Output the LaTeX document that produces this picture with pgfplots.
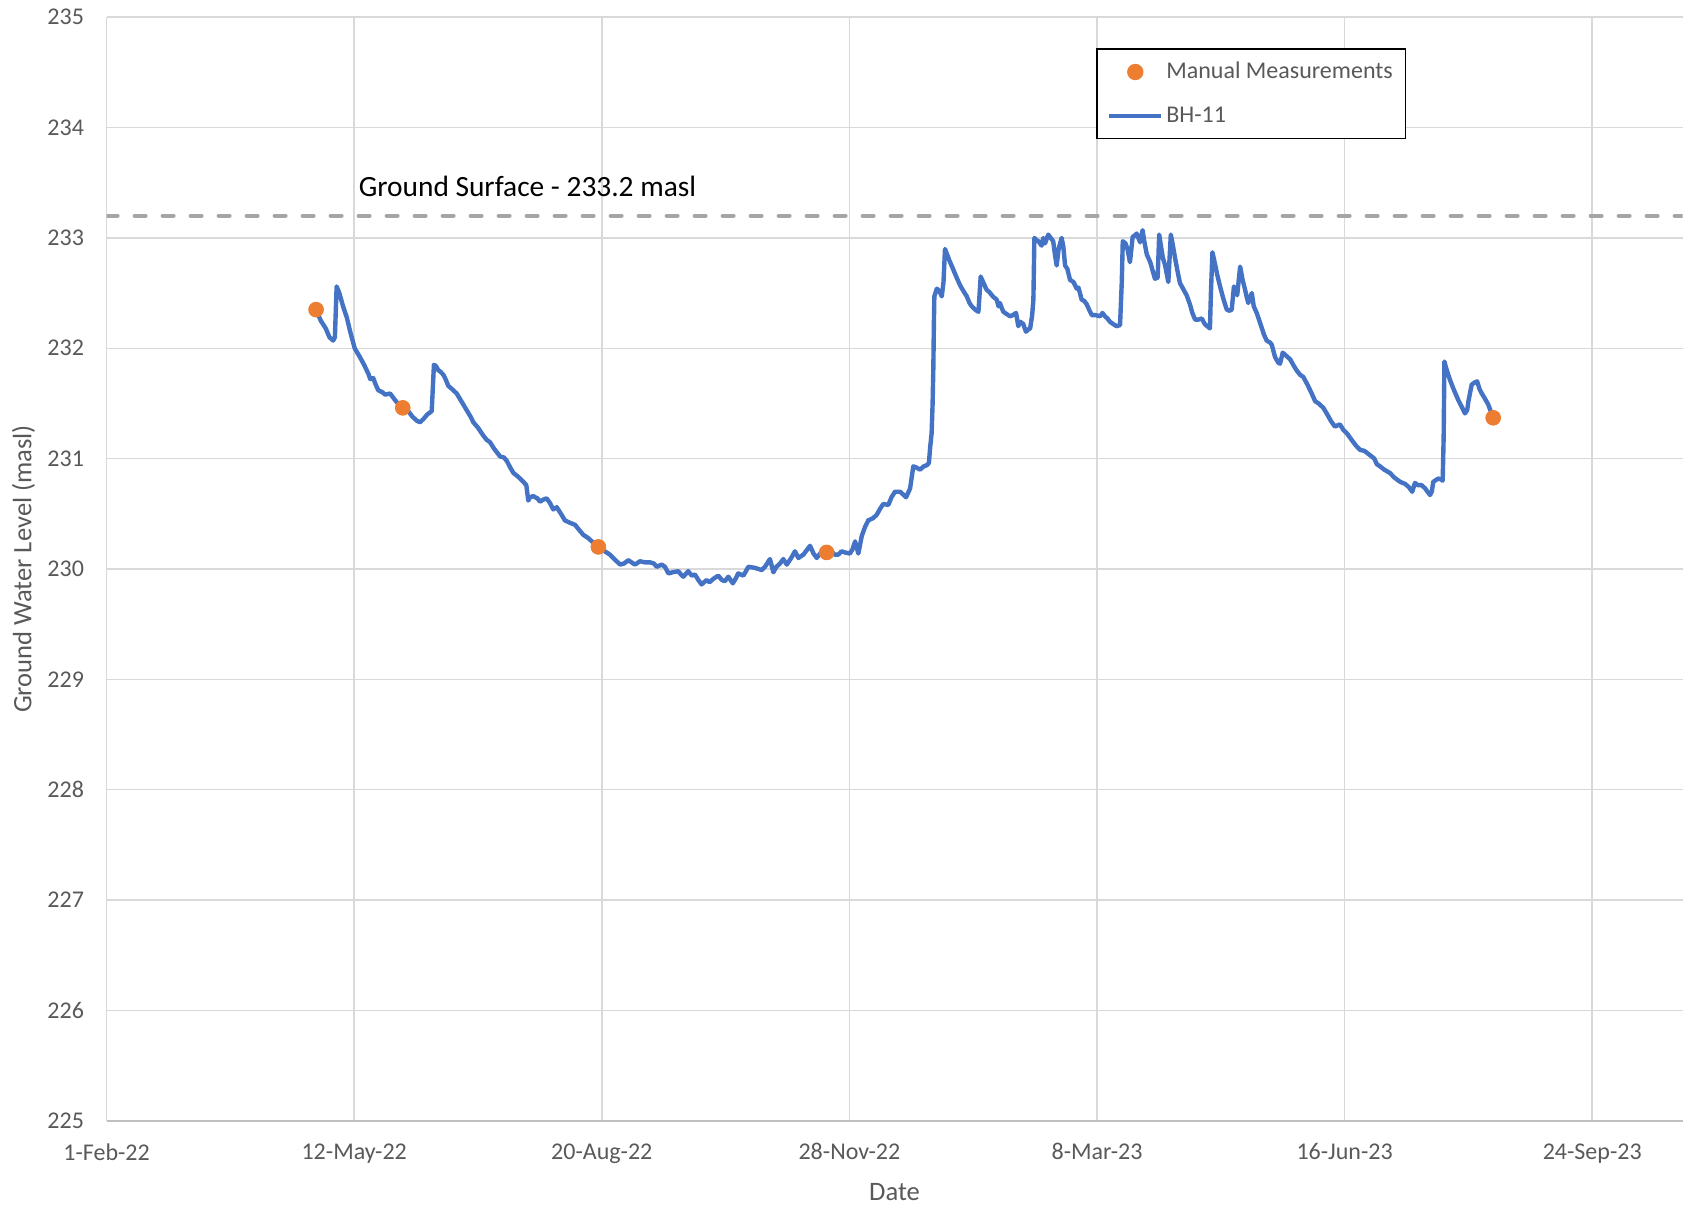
\documentclass[border=0pt]{standalone}
\usepackage{fontspec}
\setmainfont{Carlito}
\usepackage{pgfplots}
\pgfplotsset{compat=1.18}
\definecolor{bhblue}{HTML}{4472C4}
\definecolor{mmorange}{HTML}{ED7D31}
\definecolor{txtgray}{HTML}{595959}
\definecolor{gridgray}{HTML}{D9D9D9}
\definecolor{axgray}{HTML}{BFBFBF}
\definecolor{dashgray}{HTML}{A5A5A5}
\pgfplotsset{
  linelegend/.style={legend image code/.code={\draw[##1] (0pt,0pt) -- (26pt,0pt);}},
  marklegend/.style={legend image code/.code={\draw[mark repeat=2,mark phase=2,##1] plot coordinates {(0pt,0pt) (13pt,0pt) (26pt,0pt)};}},
}
\begin{document}
\begin{tikzpicture}
\useasboundingbox (-53.3pt,-44.1pt) rectangle (790.7pt,560.4pt);
\begin{axis}[
  at={(0,0)}, anchor=south west,
  scale only axis, width=788pt, height=551.8pt,
  xmin=0, xmax=636.5, ymin=225, ymax=235,
  xtick={0,100,...,600},
  xticklabels={1-Feb-22,12-May-22,20-Aug-22,28-Nov-22,8-Mar-23,16-Jun-23,24-Sep-23},
  ytick={225,226,...,235},
  /pgf/number format/assume math mode=true,
  grid=major, major grid style={gridgray, line width=0.75pt},
  major tick length=0pt,
  axis x line*=bottom, axis y line*=left,
  x axis line style={axgray, line width=1pt, -},
  y axis line style={gridgray, line width=0.75pt, -},
  tick label style={font=\fontsize{12}{14}\selectfont, text=txtgray},
  yticklabel style={xshift=-7.8pt},
  xticklabel style={yshift=-7.8pt},
  xlabel={Date}, ylabel={Ground Water Level (masl)},
  label style={font=\fontsize{13.3}{15}\selectfont, text=txtgray},
  xlabel style={at={(axis description cs:0.5,-0.0643)}, anchor=center},
  ylabel style={at={(axis description cs:-0.0527,0.5)}, anchor=center},
  legend style={draw=black, line width=0.75pt, at={(axis description cs:0.628,0.9717)}, anchor=north west,
    font=\fontsize{12}{14}\selectfont, text=txtgray, inner xsep=5pt, inner ysep=2.5pt, row sep=4.5pt,
    nodes={inner xsep=1.4pt, inner ysep=4pt}},
  legend cell align=left,
]
\addplot[forget plot, dashgray, line width=2pt, dash pattern=on 5.5pt off 8.5pt, line cap=round]
  coordinates {(0,233.2) (636.5,233.2)};
\addplot[only marks, mmorange, mark=*, mark size=3.7pt, mark options={draw=mmorange, fill=mmorange}, marklegend]
  coordinates {(84.6,232.35) (119.6,231.46) (198.6,230.20) (290.8,230.15) (560.0,231.37)};
\addlegendentry{Manual Measurements}
\addplot[bhblue, line width=2.2pt, line join=round, no markers, linelegend]
  table {
84.6 232.35
86.5 232.25
88.5 232.18
90.0 232.10
91.5 232.07
92.2 232.10
92.9 232.56
94.0 232.50
95.5 232.38
97.0 232.28
98.5 232.14
100.2 232.00
102.3 231.92
104.0 231.85
105.7 231.77
106.5 231.72
107.7 231.73
108.5 231.68
109.7 231.62
111.5 231.60
112.5 231.58
114.5 231.59
116.5 231.53
118.0 231.49
119.6 231.47
121.5 231.44
123.5 231.38
125.5 231.34
126.6 231.33
128.0 231.36
129.5 231.40
131.3 231.43
132.2 231.85
133.0 231.84
134.0 231.80
134.7 231.79
136.0 231.76
136.7 231.73
138.0 231.66
139.5 231.63
141.4 231.59
143.0 231.53
145.4 231.44
147.0 231.38
148.1 231.33
150.0 231.28
152.1 231.21
153.5 231.17
154.8 231.15
156.5 231.09
158.9 231.02
160.5 231.01
161.6 230.98
163.0 230.92
164.3 230.87
166.0 230.84
168.3 230.79
169.5 230.76
170.3 230.62
171.0 230.65
172.3 230.66
174.0 230.64
175.0 230.61
176.5 230.63
177.7 230.64
179.0 230.60
180.4 230.54
181.8 230.56
183.5 230.50
185.1 230.44
187.0 230.42
189.2 230.40
191.0 230.35
192.5 230.31
194.5 230.28
196.5 230.24
198.6 230.20
200.5 230.17
203.3 230.13
205.5 230.08
207.4 230.04
209.0 230.05
210.7 230.08
212.0 230.06
213.4 230.04
215.4 230.07
217.5 230.06
219.5 230.06
221.0 230.05
222.2 230.02
224.2 230.04
225.5 230.02
226.9 229.96
228.5 229.97
230.9 229.98
232.0 229.95
232.9 229.93
234.9 229.98
236.3 229.94
237.6 229.95
239.0 229.90
240.3 229.86
242.3 229.90
243.5 229.88
245.0 229.91
247.0 229.94
248.5 229.90
249.7 229.89
251.1 229.93
252.9 229.87
254.0 229.91
255.1 229.96
257.2 229.94
259.2 230.02
261.9 230.01
264.6 229.99
265.9 230.02
267.9 230.09
269.3 229.97
270.5 230.02
272.0 230.05
273.3 230.09
274.7 230.04
276.5 230.10
278.0 230.16
279.4 230.10
281.4 230.13
284.1 230.21
285.5 230.14
286.8 230.10
288.5 230.15
290.8 230.15
292.8 230.16
294.0 230.13
295.5 230.13
296.8 230.16
298.2 230.15
300.2 230.14
301.3 230.18
302.3 230.25
303.6 230.14
305.0 230.30
306.3 230.38
307.6 230.44
309.5 230.46
311.0 230.49
312.5 230.55
313.7 230.59
315.7 230.58
317.0 230.65
318.4 230.70
320.5 230.70
322.9 230.65
324.5 230.73
325.8 230.93
327.0 230.92
328.5 230.90
330.0 230.93
331.2 230.94
332.1 230.96
332.6 231.10
333.2 231.23
333.6 231.50
333.9 231.83
334.1 232.20
334.3 232.47
335.3 232.54
336.3 232.52
337.3 232.47
338.0 232.60
338.6 232.90
340.3 232.80
342.0 232.71
343.5 232.63
344.7 232.57
346.0 232.52
347.4 232.47
348.5 232.41
349.4 232.38
350.8 232.35
352.1 232.33
352.6 232.50
353.0 232.65
354.0 232.60
355.4 232.53
356.5 232.51
357.9 232.47
359.5 232.44
360.2 232.38
360.8 232.41
361.6 232.36
362.2 232.33
363.5 232.31
364.9 232.29
366.0 232.30
367.3 232.32
368.2 232.20
369.0 232.24
370.2 232.22
371.3 232.15
372.2 232.17
373.0 232.18
373.8 232.30
374.3 232.44
374.7 233.00
375.5 232.98
376.3 232.97
377.0 232.95
377.6 232.93
378.3 233.00
379.0 232.95
380.3 233.03
381.3 233.00
382.3 232.97
383.0 232.85
383.7 232.75
384.5 232.90
385.7 233.00
386.4 232.92
387.1 232.75
388.0 232.72
389.1 232.62
390.5 232.60
391.8 232.54
392.5 232.55
393.8 232.44
394.8 232.43
395.8 232.40
396.8 232.35
397.9 232.30
399.5 232.30
401.2 232.29
402.2 232.32
403.2 232.29
404.2 232.27
405.2 232.24
406.5 232.22
407.9 232.20
409.3 232.21
410.0 232.60
410.4 232.97
411.5 232.95
412.3 232.90
413.3 232.78
414.4 233.01
415.2 233.02
416.0 233.04
417.4 232.96
418.4 233.07
419.0 232.98
420.1 232.85
421.5 232.78
422.5 232.70
423.4 232.63
424.5 232.64
425.1 233.03
426.0 232.90
426.6 232.82
427.5 232.75
428.8 232.60
429.8 233.03
430.5 232.95
431.5 232.82
432.5 232.70
433.5 232.59
434.5 232.55
436.2 232.48
437.5 232.40
438.5 232.32
439.6 232.26
441.0 232.26
442.3 232.27
443.5 232.22
444.5 232.20
445.6 232.18
446.0 232.50
446.6 232.87
447.5 232.78
448.5 232.67
449.7 232.56
451.0 232.45
452.4 232.35
453.5 232.34
454.4 232.35
455.3 232.56
456.0 232.52
456.6 232.48
457.8 232.74
458.8 232.62
459.8 232.53
460.5 232.46
461.1 232.41
462.5 232.50
463.3 232.38
464.5 232.32
466.0 232.22
467.5 232.12
468.5 232.07
470.0 232.05
470.6 232.03
471.9 231.92
473.2 231.87
473.9 231.86
475.0 231.96
476.5 231.93
478.0 231.90
479.5 231.84
480.6 231.80
482.0 231.76
483.3 231.74
485.0 231.67
486.5 231.60
488.1 231.52
489.5 231.50
491.4 231.46
493.0 231.40
494.5 231.34
496.1 231.29
497.0 231.30
498.1 231.31
499.5 231.26
500.9 231.23
502.5 231.18
504.5 231.12
506.2 231.08
508.0 231.07
510.3 231.03
512.0 231.00
513.0 230.95
514.3 230.93
516.0 230.90
518.3 230.87
520.0 230.83
522.4 230.79
524.5 230.77
526.0 230.74
527.3 230.70
528.4 230.78
529.5 230.76
531.1 230.76
532.5 230.73
534.5 230.67
535.2 230.70
535.8 230.79
537.8 230.82
539.0 230.81
539.6 230.80
540.0 231.20
540.3 231.88
541.0 231.82
542.6 231.71
544.0 231.63
545.9 231.53
547.5 231.46
548.6 231.41
549.5 231.44
550.0 231.52
551.3 231.67
552.5 231.69
553.5 231.70
554.5 231.63
555.4 231.59
556.5 231.55
558.0 231.49
559.0 231.43
560.0 231.37
};
\addlegendentry{BH-11}
\node[anchor=west, font=\fontsize{14.7}{17}\selectfont, text=black, inner sep=0pt] at (axis cs:101.7,233.47) {Ground Surface - 233.2 masl};
\end{axis}
\end{tikzpicture}
\end{document}
